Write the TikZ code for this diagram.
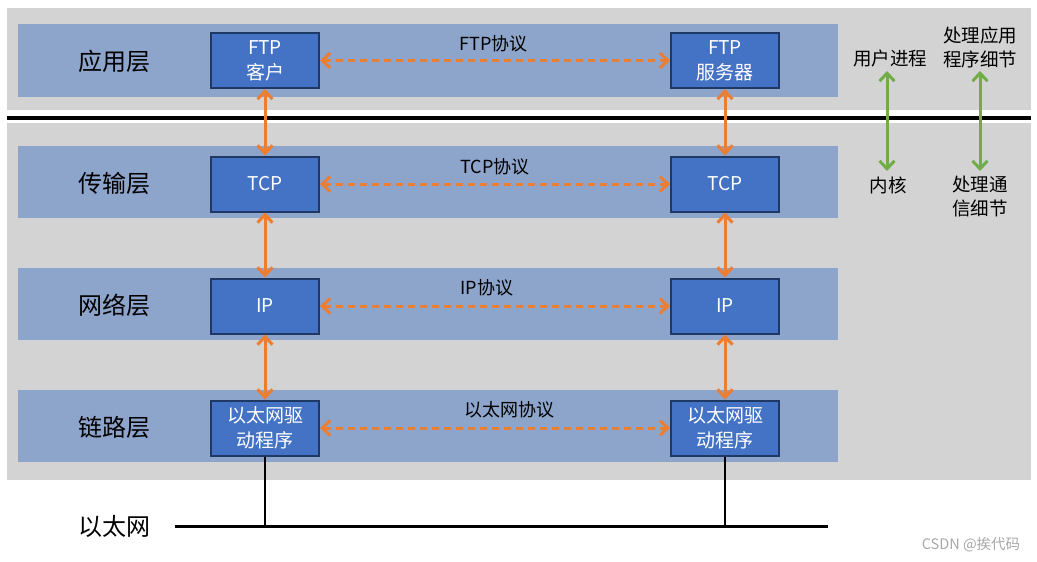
\documentclass[tikz,border=0pt]{standalone}
\usepackage{fontspec}
\setmainfont{Noto Sans CJK SC}
\usetikzlibrary{arrows.meta}
\definecolor{bggray}{HTML}{D3D3D3}
\definecolor{band}{HTML}{8DA4CB}
\definecolor{boxblue}{HTML}{4472C4}
\definecolor{boxedge}{HTML}{1F3864}
\definecolor{orng}{HTML}{ED7D31}
\definecolor{grn}{HTML}{70AD47}
\definecolor{wmark}{HTML}{A8A8A8}
\begin{document}
\begin{tikzpicture}[x=1pt,y=-1pt,
  layerband/.style={fill=band, draw=none},
  protobox/.style={draw=boxedge, line width=2pt, fill=boxblue, minimum width=108pt, minimum height=55pt, text=white, font=\fontsize{19}{25}\selectfont, align=center, inner sep=0pt},
  layerlabel/.style={font=\fontsize{24}{28}\selectfont, text=black},
  protolabel/.style={font=\fontsize{18}{22}\selectfont, text=black},
  sidelabel/.style={font=\fontsize{18.5}{24}\selectfont, text=black, align=center},
  vlink/.style={draw=orng, line width=3pt, {Straight Barb[length=8pt,width=15pt]}-{Straight Barb[length=8pt,width=15pt]}},
  hlink/.style={draw=orng, line width=3pt, dash pattern=on 7.5pt off 4.5pt, {Straight Barb[length=8pt,width=15pt]}-{Straight Barb[length=8pt,width=15pt]}},
  glink/.style={draw=grn, line width=3pt, {Straight Barb[length=8pt,width=15pt]}-{Straight Barb[length=8pt,width=15pt]}},
]
\useasboundingbox (0,0) rectangle (1037,562);
% backgrounds
\fill[bggray] (7,8) rectangle (1031,110);
\fill[bggray] (7,123) rectangle (1031,480);
\draw[black, line width=3.5pt] (7,118) -- (1031,118);
% layer bands
\fill[layerband] (18,24) rectangle (838,97);
\fill[layerband] (18,146) rectangle (838,218);
\fill[layerband] (18,268) rectangle (838,340);
\fill[layerband] (18,390) rectangle (838,462);
% layer labels
\node[layerlabel] (lapp) at (114,61) {应用层};
\node[layerlabel] (ltrans) at (114,183) {传输层};
\node[layerlabel] (lnet) at (114,305) {网络层};
\node[layerlabel] (llink) at (114,427) {链路层};
% boxes
\node[protobox] (ftpL) at (265,60.5) {FTP\\客户};
\node[protobox] (ftpR) at (725,60.5) {FTP\\服务器};
\node[protobox] (tcpL) at (265,184) {TCP};
\node[protobox] (tcpR) at (725,184) {TCP};
\node[protobox] (ipL) at (265,306) {IP};
\node[protobox] (ipR) at (725,306) {IP};
\node[protobox] (ethL) at (265,428) {以太网驱\\动程序};
\node[protobox] (ethR) at (725,428) {以太网驱\\动程序};
% protocol links
\draw[hlink] (ftpL.east) -- (ftpR.west);
\draw[hlink] (tcpL.east) -- (tcpR.west);
\draw[hlink] (ipL.east) -- (ipR.west);
\draw[hlink] (ethL.east) -- (ethR.west);
\node[protolabel] (pftp) at (493.5,44) {FTP协议};
\node[protolabel] (ptcp) at (495,167) {TCP协议};
\node[protolabel] (pip) at (487,288) {IP协议};
\node[protolabel] (peth) at (509.5,410) {以太网协议};
% vertical links
\draw[vlink] (ftpL.south) -- (tcpL.north);
\draw[vlink] (tcpL.south) -- (ipL.north);
\draw[vlink] (ipL.south) -- (ethL.north);
\draw[vlink] (ftpR.south) -- (tcpR.north);
\draw[vlink] (tcpR.south) -- (ipR.north);
\draw[vlink] (ipR.south) -- (ethR.north);
% side labels and green arrows
\node[sidelabel] (user) at (890,58) {用户进程};
\node[sidelabel] (kern) at (888,185) {内核};
\node[sidelabel] (appd) at (980,47) {处理应用\\程序细节};
\node[sidelabel] (comd) at (980,197) {处理通\\信细节};
\coordinate (g1a) at (887,71);
\coordinate (g1b) at (887,171);
\coordinate (g2a) at (980,71);
\coordinate (g2b) at (980,171);
\draw[glink] (g1a) -- (g1b);
\draw[glink] (g2a) -- (g2b);
% ethernet
\node[layerlabel] (ether) at (114,526) {以太网};
\coordinate (bus1) at (175,526);
\coordinate (bus2) at (828,526);
\draw[black, line width=3pt] (bus1) -- (bus2);
\draw[black, line width=2.5pt] (ethL.south) -- (ethL.south |- bus1);
\draw[black, line width=2.5pt] (ethR.south) -- (ethR.south |- bus1);
% watermark
\node[font=\fontsize{14.5}{16}\selectfont, text=wmark] (wm) at (971,545) {CSDN @挨代码};
\end{tikzpicture}
\end{document}
